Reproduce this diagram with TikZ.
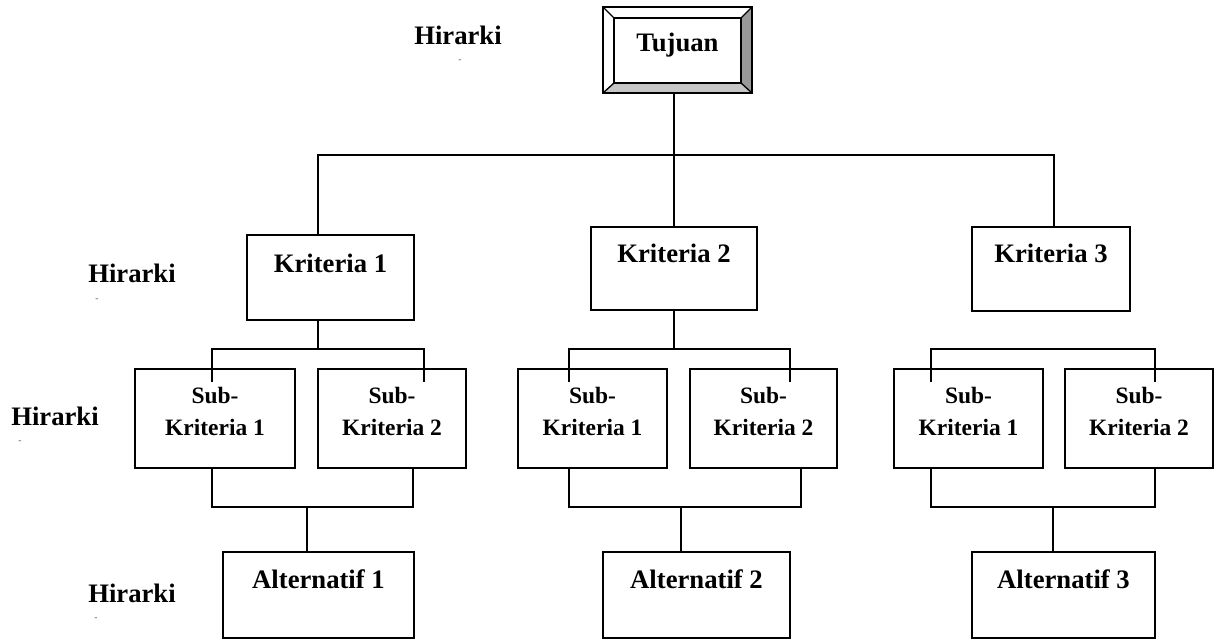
\documentclass[tikz,border=0pt]{standalone}
\usepackage{fontspec}
\setmainfont{Liberation Serif}

\begin{document}
\begin{tikzpicture}[x=0.75pt,y=-0.75pt,line width=1.4pt,
  box/.style 2 args={draw=black,rectangle,inner sep=0pt,outer sep=0pt,minimum width=#1*0.75pt,minimum height=#2*0.75pt},
  lbl/.style={font=\fontsize{20}{24}\selectfont\bfseries,anchor=base,inner sep=0pt},
  slbl/.style={font=\fontsize{17.6}{21}\selectfont\bfseries,anchor=base,inner sep=0pt},
  tick/.style={font=\scriptsize,text=black!70,inner sep=0pt}]
\useasboundingbox (0,0) rectangle (1219,641);

\node[box={149}{86}] (tuj) at (677.5,50) {};
\fill[gray!80] (tuj.north east) -- (tuj.south east) -- ([shift={(-11,-10)}]tuj.south east) -- ([shift={(-11,11)}]tuj.north east) -- cycle;
\fill[gray!45] (tuj.south west) -- (tuj.south east) -- ([shift={(-11,-10)}]tuj.south east) -- ([shift={(11,-10)}]tuj.south west) -- cycle;
\draw[line width=1pt] ([shift={(11,11)}]tuj.north west) rectangle ([shift={(-11,-10)}]tuj.south east);
\draw[line width=1pt] (tuj.north west) -- ([shift={(11,11)}]tuj.north west);
\draw[line width=1pt] (tuj.north east) -- ([shift={(-11,11)}]tuj.north east);
\draw[line width=1pt] (tuj.south west) -- ([shift={(11,-10)}]tuj.south west);
\draw[line width=1pt] (tuj.south east) -- ([shift={(-11,-10)}]tuj.south east);
\node[box={149}{86}] at (tuj) {};
\node[lbl] (ttuj) at (677.5,52) {Tujuan};

\node[box={167}{85}] (k1) at (330.5,277.5) {};
\node[box={166}{83}] (k2) at (674,268.5) {};
\node[box={158}{84}] (k3) at (1051,269) {};
\node[lbl] (tk1) at ([shift={(0,38)}]k1.north) {Kriteria 1};
\node[lbl] (tk2) at ([shift={(0,36)}]k2.north) {Kriteria 2};
\node[lbl] (tk3) at ([shift={(0,36)}]k3.north) {Kriteria 3};

\node[box={160}{99}] (s11) at (215,418.5) {};
\node[box={148}{99}] (s12) at (392,418.5) {};
\node[box={149}{99}] (s21) at (592.5,418.5) {};
\node[box={147}{99}] (s22) at (763.5,418.5) {};
\node[box={149}{99}] (s31) at (968.5,418.5) {};
\node[box={148}{99}] (s32) at (1139,418.5) {};
\foreach \s/\n in {s11/1,s12/2,s21/1,s22/2,s31/1,s32/2} {
  \node[slbl] (\s-a) at ([shift={(0,34)}]\s.north) {Sub-};
  \node[slbl] (\s-b) at ([shift={(0,66)}]\s.north) {Kriteria \n};
}

\node[box={191}{86}] (a1) at (318.5,595) {};
\node[box={187}{86}] (a2) at (696.5,595) {};
\node[box={183}{86}] (a3) at (1063.5,595) {};
\node[lbl] (ta1) at ([shift={(0,36)}]a1.north) {Alternatif 1};
\node[lbl] (ta2) at ([shift={(0,36)}]a2.north) {Alternatif 2};
\node[lbl] (ta3) at ([shift={(0,36)}]a3.north) {Alternatif 3};

\node[lbl] (h1) at (458,45) {Hirarki};
\node[lbl] (h2) at (132,283) {Hirarki};
\node[lbl] (h3) at (55,425) {Hirarki};
\node[lbl] (h4) at (132,602) {Hirarki};
\node[tick] (m1) at (460,61) {-};
\node[tick] (m2) at (97,300) {-};
\node[tick] (m3) at (20,442) {-};
\node[tick] (m4) at (96,619) {-};

\coordinate (b1) at (318,155);
\coordinate (b2) at (674,155);
\coordinate (b3) at (1054,155);
\draw (b2 |- tuj.south) -- (b2) -- (b2 |- k2.north);
\draw (b1 |- k1.north) -- (b1) -- (b3) -- (b3 |- k3.north);

\coordinate (g1) at (318,349);
\coordinate (g1l) at (212,382);
\coordinate (g1r) at (424,382);
\draw (g1 |- k1.south) -- (g1);
\draw (g1l) |- (g1) -| (g1r);
\coordinate (g2) at (674,349);
\coordinate (g2l) at (569,382);
\coordinate (g2r) at (790,382);
\draw (g2 |- k2.south) -- (g2);
\draw (g2l) |- (g2) -| (g2r);
\coordinate (g3) at (1043,349);
\coordinate (g3l) at (931,382);
\coordinate (g3r) at (1155,382);
\draw (g3l) |- (g3) -| (g3r);

\coordinate (d1) at (307,507);
\coordinate (d1l) at (212,507);
\coordinate (d1r) at (413,507);
\draw (d1l |- s11.south) -- (d1l) -- (d1r) -- (d1r |- s12.south);
\draw (d1) -- (d1 |- a1.north);
\coordinate (d2) at (681,507);
\coordinate (d2l) at (569,507);
\coordinate (d2r) at (801,507);
\draw (d2l |- s21.south) -- (d2l) -- (d2r) -- (d2r |- s22.south);
\draw (d2) -- (d2 |- a2.north);
\coordinate (d3) at (1053,507);
\coordinate (d3l) at (931,507);
\coordinate (d3r) at (1155,507);
\draw (d3l |- s31.south) -- (d3l) -- (d3r) -- (d3r |- s32.south);
\draw (d3) -- (d3 |- a3.north);
\end{tikzpicture}
\end{document}
